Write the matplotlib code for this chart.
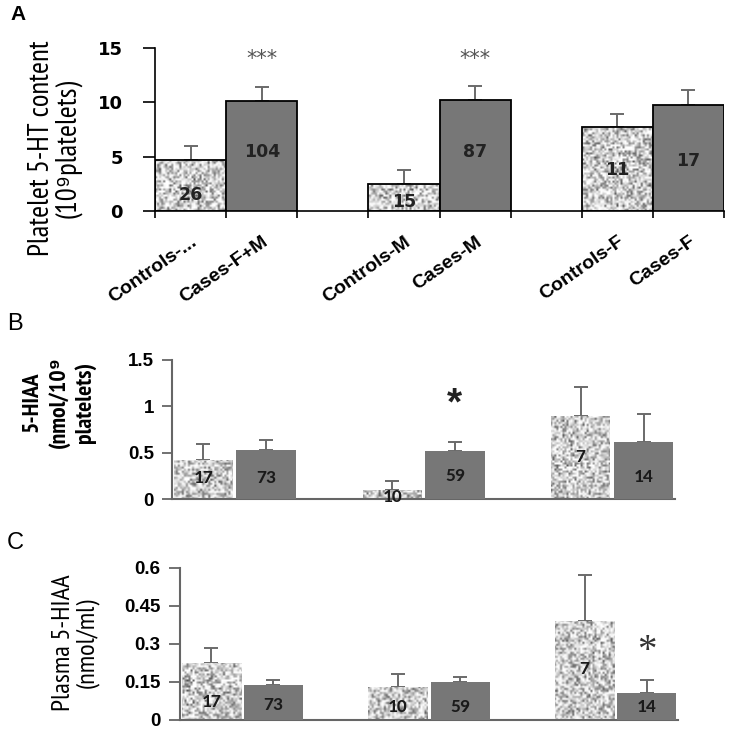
import numpy as np
import matplotlib
matplotlib.use("Agg")
import matplotlib.pyplot as plt
from matplotlib import font_manager

# ---------------- data ----------------
tick_labels_a = ["Controls-...", "Cases-F+M", "", "Controls-M", "Cases-M", "", "Controls-F", "Cases-F"]
control_slots = [0, 3, 6]
case_slots = [1, 4, 7]

# Panel A: platelet 5-HT content
ctrl_a = [4.7, 2.45, 7.7]
ctrl_a_err = [1.3, 1.35, 1.2]
case_a = [10.1, 10.2, 9.75]
case_a_err = [1.3, 1.3, 1.35]
ctrl_n_a = ["26", "15", "11"]
case_n_a = ["104", "87", "17"]

# Panel B: platelet 5-HIAA
ctrl_b = [0.42, 0.10, 0.90]
ctrl_b_err = [0.17, 0.09, 0.31]
case_b = [0.53, 0.52, 0.62]
case_b_err = [0.11, 0.09, 0.30]
ctrl_n_b = ["17", "10", "7"]
case_n_b = ["73", "59", "14"]

# Panel C: plasma 5-HIAA
ctrl_c = [0.226, 0.13, 0.39]
ctrl_c_err = [0.058, 0.05, 0.183]
case_c = [0.138, 0.149, 0.108]
case_c_err = [0.02, 0.022, 0.05]
ctrl_n_c = ["17", "10", "7"]
case_n_c = ["73", "59", "14"]

# ---------------- style ----------------
avail = {f.name for f in font_manager.fontManager.ttflist}


def pick(prefs, last):
    return [p for p in prefs if p in avail][:1] + [last, "DejaVu Sans"]


NARROW = pick(["Liberation Sans Narrow", "Arial Narrow", "Arimo Narrow", "PT Sans Narrow", "Roboto Condensed",
               "Archivo Narrow"], "Liberation Sans")
CALIBRI = pick(["Carlito", "Liberation Sans Narrow", "PT Sans Narrow", "Roboto Condensed"], "Liberation Sans")
ARIAL = ["Liberation Sans", "DejaVu Sans"]
WIDE = ["DejaVu Sans"]
CASE_COLOR = "#777777"
ERR_COLOR = "#6a6a6a"

W, H = 739, 740
fig = plt.figure(figsize=(W / 100, H / 100), dpi=100)
renderer = fig.canvas.get_renderer()
rng = np.random.default_rng(7)


def rect(l, t, r, b):
    return [l / W, 1 - b / H, (r - l) / W, (b - t) / H]


def fit_text(t, target_len):
    bb = t.get_window_extent(renderer)
    t.set_fontsize(t.get_fontsize() * target_len / bb.height)


def textured_bars(ax, xs, vals, width, edge, lw):
    # speckled fill (style only): one texture per axes with constant grain, clipped to each bar
    bb = ax.get_window_extent(renderer)
    ny, nx = max(int(bb.height / 2.0), 2), max(int(bb.width / 2.0), 2)
    tex = rng.random((ny, nx))
    tex_img = np.clip(0.30 + 0.80 * tex ** 0.6, 0, 1)
    x0l, x1l = ax.get_xlim()
    y0l, y1l = ax.get_ylim()
    bars = ax.bar(xs, vals, width=width, color="#b0b0b0", edgecolor="none", zorder=2)
    for b in bars:
        im = ax.imshow(tex_img, cmap="gray", vmin=0, vmax=1, extent=(x0l, x1l, y0l, y1l),
                       aspect="auto", interpolation="bilinear", zorder=2.5)
        im.set_clip_path(b)
    ax.set_xlim(x0l, x1l)
    ax.set_ylim(y0l, y1l)
    if edge is not None:
        ax.bar(xs, vals, width=width, facecolor="none", edgecolor=edge, linewidth=lw, zorder=3)


def err(ax, xs, vals, errs, capsize, lw):
    ax.errorbar(xs, vals, yerr=[np.zeros(len(errs)), errs], fmt="none", ecolor=ERR_COLOR,
                elinewidth=lw, capsize=capsize, capthick=lw, zorder=1.5)


xc = [s + 0.5 for s in control_slots]
xk = [s + 0.5 for s in case_slots]

# ---------------- Panel A ----------------
axA = fig.add_axes(rect(155, 48, 724, 211))
axA.set_xlim(0, 8)
axA.set_ylim(0, 15)
err(axA, xc, ctrl_a, ctrl_a_err, 5, 1.4)
err(axA, xk, case_a, case_a_err, 5, 1.4)
textured_bars(axA, xc, ctrl_a, 1.0, "black", 1.3)
axA.bar(xk, case_a, width=1.0, color=CASE_COLOR, edgecolor="black", linewidth=1.3, zorder=3)
axA.set_yticks([0, 5, 10, 15])
axA.set_yticklabels(["0", "5", "10", "15"], fontsize=13, fontweight="bold", family=WIDE)
axA.tick_params(axis="y", direction="out", length=9, width=1.2, pad=14)
axA.set_xticks(range(9))
axA.set_xticklabels([])
axA.tick_params(axis="x", which="major", direction="out", length=5, width=1.2)
axA.set_xticks([i + 0.5 for i in range(8)], minor=True)
axA.set_xticklabels(tick_labels_a, minor=True, rotation=35, ha="right", va="top",
                    rotation_mode="anchor", fontsize=14, fontweight="bold", family=ARIAL)
axA.tick_params(axis="x", which="minor", length=0, pad=16)
for s in ["top", "right"]:
    axA.spines[s].set_visible(False)
for s in ["left", "bottom"]:
    axA.spines[s].set_linewidth(1.2)
for x, n, y in zip(xc, ctrl_n_a, [1.5, 0.8, 3.8]):
    axA.text(x, y, n, ha="center", va="center", fontsize=12.5, fontweight="bold", family=WIDE, color="#222222", zorder=4)
for x, n, y in zip(xk, case_n_a, [5.4, 5.4, 4.6]):
    axA.text(x, y, n, ha="center", va="center", fontsize=12.5, fontweight="bold", family=WIDE, color="#222222", zorder=4)
for x in [1.5, 4.5]:
    axA.text(x, 14.0, "***", ha="center", va="center", fontsize=15, color="#555555", family=WIDE)

fig.text(18 / W, 1 - 14 / H, "A", ha="center", va="center", fontsize=15, fontweight="bold", family=ARIAL)
ylA = fig.text(55 / W, 1 - 148 / H, "Platelet 5-HT content\n(10\u2079platelets)", rotation=90, ha="center",
               va="center", fontsize=18, family=NARROW, linespacing=0.95, multialignment="center")
fit_text(ylA, 215)

# ---------------- Panel B ----------------
axB = fig.add_axes(rect(172, 360, 675, 499))
axB.set_xlim(0, 8)
axB.set_ylim(0, 1.5)
err(axB, xc, ctrl_b, ctrl_b_err, 5, 1.4)
err(axB, xk, case_b, case_b_err, 5, 1.4)
textured_bars(axB, xc, ctrl_b, 0.93, None, 0)
axB.bar(xk, case_b, width=0.95, color=CASE_COLOR, edgecolor="none", zorder=3)
axB.set_yticks([0, 0.5, 1, 1.5])
axB.set_yticklabels(["0", "0.5", "1", "1.5"], fontsize=13.5, fontweight="bold", family=ARIAL)
axB.tick_params(axis="y", direction="out", length=7, width=1.3, color="#666666", pad=6)
axB.set_xticks([])
for s in ["top", "right"]:
    axB.spines[s].set_visible(False)
for s in ["left", "bottom"]:
    axB.spines[s].set_linewidth(1.5)
    axB.spines[s].set_color("#666666")
for x, n, y in zip(xc, ctrl_n_b, [0.23, 0.025, 0.45]):
    axB.text(x, y, n, ha="center", va="center", fontsize=14, fontweight="bold", family=CALIBRI, color="#1a1a1a", zorder=4)
for x, n, y in zip(xk, case_n_b, [0.23, 0.25, 0.24]):
    axB.text(x, y, n, ha="center", va="center", fontsize=14, fontweight="bold", family=CALIBRI, color="#1a1a1a", zorder=4)
axB.text(4.5, 1.02, "*", ha="center", va="center", fontsize=28, fontweight="bold", color="#222222", family=ARIAL)

fig.text(15 / W, 1 - 324 / H, "B", ha="center", va="center", fontsize=17, family=ARIAL)
ylB = fig.text(59 / W, 1 - 402 / H, "5-HIAA\n(nmol/10\u2079\nplatelets)", rotation=90, ha="center", va="center",
               fontsize=15, fontweight="bold", family=NARROW, linespacing=1.3, multialignment="center")
fit_text(ylB, 92)

# ---------------- Panel C ----------------
axC = fig.add_axes(rect(180, 568, 678, 720))
axC.set_xlim(0, 8)
axC.set_ylim(0, 0.6)
err(axC, xc, ctrl_c, ctrl_c_err, 5, 1.4)
err(axC, xk, case_c, case_c_err, 5, 1.4)
textured_bars(axC, xc, ctrl_c, 0.95, None, 0)
axC.bar(xk, case_c, width=0.95, color=CASE_COLOR, edgecolor="none", zorder=3)
axC.set_yticks([0, 0.15, 0.3, 0.45, 0.6])
axC.set_yticklabels(["0", "0.15", "0.3", "0.45", "0.6"], fontsize=13.5, fontweight="bold", family=ARIAL)
axC.tick_params(axis="y", direction="out", length=8, width=1.3, color="#666666", pad=6)
axC.set_xticks([])
for s in ["top", "right"]:
    axC.spines[s].set_visible(False)
for s in ["left", "bottom"]:
    axC.spines[s].set_linewidth(1.5)
    axC.spines[s].set_color("#666666")
for x, n, y in zip(xc, ctrl_n_c, [0.07, 0.05, 0.2]):
    axC.text(x, y, n, ha="center", va="center", fontsize=14, fontweight="bold", family=CALIBRI, color="#1a1a1a", zorder=4)
for x, n, y in zip(xk, case_n_c, [0.06, 0.05, 0.05]):
    axC.text(x, y, n, ha="center", va="center", fontsize=14, fontweight="bold", family=CALIBRI, color="#1a1a1a", zorder=4)
axC.text(7.5, 0.27, "*", ha="center", va="center", fontsize=28, color="#333333", family=["Liberation Serif", "DejaVu Serif"])

fig.text(15 / W, 1 - 543 / H, "C", ha="center", va="center", fontsize=17, family=ARIAL)
ylC = fig.text(75 / W, 1 - 643 / H, "Plasma 5-HIAA\n(nmol/ml)", rotation=90, ha="center", va="center",
               fontsize=15, family=NARROW, linespacing=1.0, multialignment="center")
fit_text(ylC, 137)

fig.savefig("out.png", dpi=100)
